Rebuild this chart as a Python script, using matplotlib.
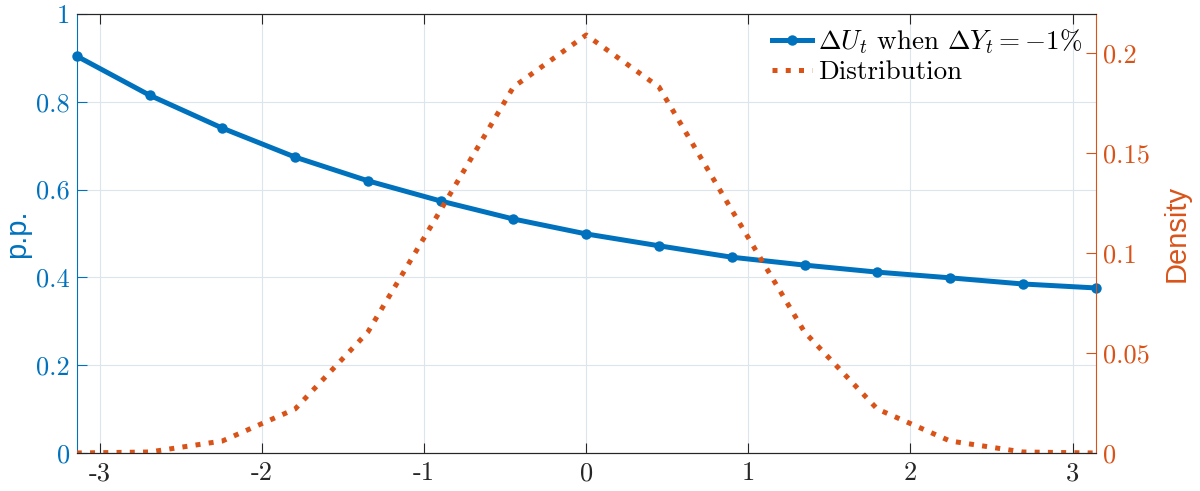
import numpy as np
import matplotlib
matplotlib.use("Agg")
import matplotlib.pyplot as plt
from matplotlib.ticker import FuncFormatter

plt.rcParams["font.family"] = ["cmr10", "DejaVu Sans"]
plt.rcParams["mathtext.fontset"] = "cm"
plt.rcParams["axes.unicode_minus"] = False
plt.rcParams["axes.formatter.use_mathtext"] = False

# data
x = np.linspace(-np.pi, np.pi, 15)
du = [0.904, 0.815, 0.740, 0.674, 0.620, 0.574, 0.533, 0.499,
      0.472, 0.446, 0.428, 0.412, 0.399, 0.385, 0.376]
density = [0.0, 0.0005, 0.006, 0.022, 0.0605, 0.1215, 0.183, 0.209,
           0.183, 0.1215, 0.0605, 0.022, 0.006, 0.0005, 0.0]
left_ticks = [0, 0.2, 0.4, 0.6, 0.8, 1]
right_ticks = [0, 0.05, 0.1, 0.15, 0.2]
x_ticks = [-3, -2, -1, 0, 1, 2, 3]

blue = "#0072BD"
orange = "#D95319"

fig = plt.figure(figsize=(12, 4.91), dpi=100)
ax = fig.add_axes([0.064, 0.0774, 0.849, 0.8941])
ax2 = ax.twinx()

l1, = ax.plot(x, du, color=blue, lw=3.6, marker="o", ms=6, mew=1.5,
              zorder=3, clip_on=False,
              label=r"$\Delta U_t$ when $\Delta Y_t = -1\%$")
l2, = ax2.plot(x, density, color=orange, lw=3.6, ls=":", label="Distribution")

fmt = FuncFormatter(lambda v, p: "%g" % v)
ax.set_xlim(-np.pi, np.pi)
ax.set_ylim(0, 1)
ax2.set_ylim(0, 0.2195)
ax.set_xticks(x_ticks)
ax.set_yticks(left_ticks)
ax2.set_yticks(right_ticks)
ax.xaxis.set_major_formatter(fmt)
ax.yaxis.set_major_formatter(fmt)
ax2.yaxis.set_major_formatter(fmt)

ax.grid(True, color="#dbe5ee", lw=0.8)
ax.set_axisbelow(True)

ax.tick_params(axis="x", direction="in", top=True, length=7, labelsize=19,
               colors="#262626", pad=6)
ax.tick_params(axis="y", direction="in", length=7, labelsize=19,
               colors=blue, pad=5)
ax2.tick_params(axis="y", direction="in", length=7, labelsize=19,
                colors=orange, pad=5)

for a in (ax, ax2):
    a.spines["top"].set_color("#262626")
    a.spines["bottom"].set_color("#262626")
    a.spines["left"].set_color(blue)
    a.spines["right"].set_color(orange)
    for s in a.spines.values():
        s.set_linewidth(0.8)
ax2.spines["left"].set_visible(False)
ax.spines["right"].set_visible(False)

ax.set_ylabel("p.p.", color=blue, fontsize=21, family="Liberation Sans")
ax.yaxis.set_label_coords(-0.045, 0.5)
ax2.set_ylabel("Density", color=orange, fontsize=21, family="Liberation Sans")
ax2.yaxis.set_label_coords(1.066, 0.5)

leg = ax2.legend([l1, l2], [l1.get_label(), l2.get_label()], loc="upper right",
                 frameon=False, fontsize=19.5, handlelength=1.5,
                 handletextpad=0.2, borderaxespad=0.1, labelspacing=0.15)

fig.savefig("out.png", dpi=100)
